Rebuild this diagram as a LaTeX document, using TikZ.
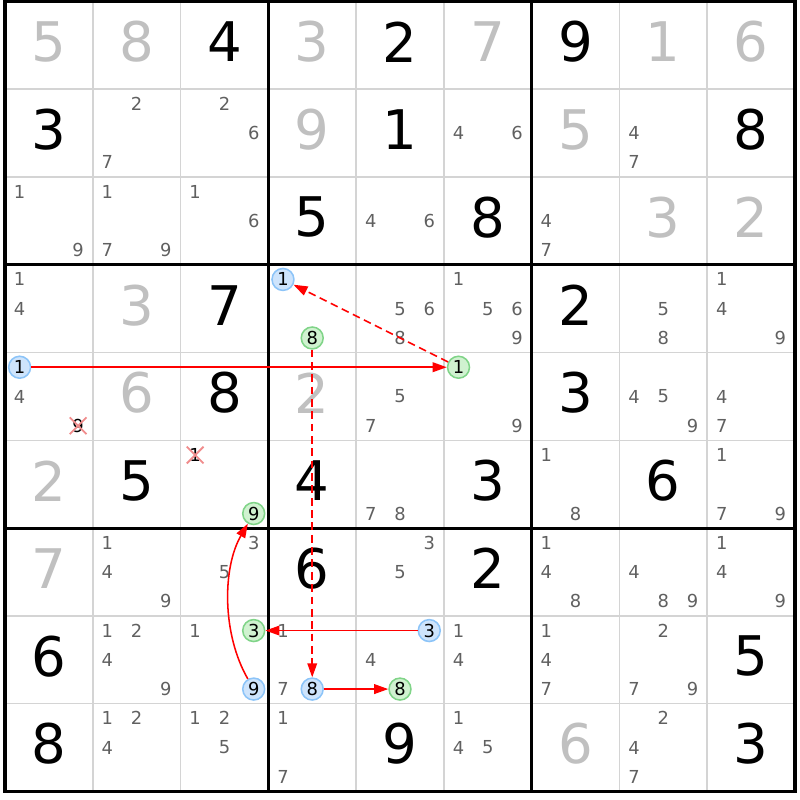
\documentclass[tikz,border=0pt]{standalone}
\usepackage{fontspec}
\setmainfont{DejaVu Sans}
\usetikzlibrary{arrows.meta,shapes.misc}
\definecolor{solvedgray}{RGB}{192,192,192}
\definecolor{candgray}{RGB}{96,96,96}
\definecolor{gridgray}{RGB}{212,212,212}
\definecolor{bluefill}{RGB}{206,228,252}
\definecolor{bluedraw}{RGB}{140,196,248}
\definecolor{greenfill}{RGB}{208,242,208}
\definecolor{greendraw}{RGB}{128,212,136}
\definecolor{crosspink}{RGB}{240,140,140}
\definecolor{linkred}{RGB}{255,0,0}

\begin{document}
\begin{tikzpicture}[>={Triangle[length=1.6mm,width=1.1mm]}]
        \tikzstyle{given}=[font=\fontsize{17.7}{18}\selectfont,inner sep=0pt]
        \tikzstyle{solved}=[given,text=solvedgray]
        \tikzstyle{cand}=[font=\fontsize{5.8}{6}\selectfont,text=candgray,inner sep=0pt]
        \tikzstyle{bluecand}=[cand,text=black,circle,draw=bluedraw,fill=bluefill,line width=0.5pt,minimum size=2.5mm]
        \tikzstyle{greencand}=[bluecand,draw=greendraw,fill=greenfill]
        \tikzstyle{elimcand}=[cand,text=black,cross out,draw=crosspink,line width=0.6pt,minimum size=1.7mm]
        \tikzstyle{stronglink}=[->,draw=linkred,line width=0.5pt]
        \tikzstyle{weaklink}=[stronglink,dash pattern=on 2.5pt off 1.5pt]
        \useasboundingbox (-0.057,-0.097) rectangle (9.057,9.017);
        % grid
        \foreach \i in {1,2,4,5,7,8} {
            \draw[gridgray,line width=0.5pt] (\i,0) -- (\i,9);
            \draw[gridgray,line width=0.5pt] (0,\i) -- (9,\i);
        }
        \foreach \i in {3,6} {
            \draw[line width=1pt] (\i,0) -- (\i,9);
            \draw[line width=1pt] (0,\i) -- (9,\i);
        }
        \draw[line width=1pt] (0,0) rectangle (9,9);
        % givens and solved cells
        \foreach \c/\r/\d in {3/1/4,5/1/2,7/1/9,1/2/3,5/2/1,9/2/8,4/3/5,6/3/8,3/4/7,7/4/2,
            3/5/8,7/5/3,2/6/5,4/6/4,6/6/3,8/6/6,4/7/6,6/7/2,1/8/6,9/8/5,1/9/8,5/9/9,9/9/3}
            \node[given] (v\r\c) at (\c-0.5,9.54-\r) {\d};
        \foreach \c/\r/\d in {1/1/5,2/1/8,4/1/3,6/1/7,8/1/1,9/1/6,4/2/9,7/2/5,8/3/3,9/3/2,
            2/4/3,2/5/6,4/5/2,1/6/2,1/7/7,7/9/6}
            \node[solved] (v\r\c) at (\c-0.5,9.54-\r) {\d};
        % candidates
        \foreach \c/\r/\d/\s in {2/2/2/cand,2/2/7/cand,3/2/2/cand,3/2/6/cand,6/2/4/cand,6/2/6/cand,8/2/4/cand,8/2/7/cand,
            1/3/1/cand,1/3/9/cand,2/3/1/cand,2/3/7/cand,2/3/9/cand,3/3/1/cand,3/3/6/cand,5/3/4/cand,5/3/6/cand,7/3/4/cand,7/3/7/cand,
            1/4/1/cand,1/4/4/cand,4/4/1/bluecand,4/4/8/greencand,5/4/5/cand,5/4/6/cand,5/4/8/cand,6/4/1/cand,6/4/5/cand,6/4/6/cand,6/4/9/cand,
            8/4/5/cand,8/4/8/cand,9/4/1/cand,9/4/4/cand,9/4/9/cand,
            1/5/1/bluecand,1/5/4/cand,1/5/9/elimcand,5/5/5/cand,5/5/7/cand,6/5/1/greencand,6/5/9/cand,8/5/4/cand,8/5/5/cand,8/5/9/cand,9/5/4/cand,9/5/7/cand,
            3/6/1/elimcand,3/6/9/greencand,5/6/7/cand,5/6/8/cand,7/6/1/cand,7/6/8/cand,9/6/1/cand,9/6/7/cand,9/6/9/cand,
            2/7/1/cand,2/7/4/cand,2/7/9/cand,3/7/3/cand,3/7/5/cand,5/7/3/cand,5/7/5/cand,7/7/1/cand,7/7/4/cand,7/7/8/cand,
            8/7/4/cand,8/7/8/cand,8/7/9/cand,9/7/1/cand,9/7/4/cand,9/7/9/cand,
            2/8/1/cand,2/8/2/cand,2/8/4/cand,2/8/9/cand,3/8/1/cand,3/8/3/greencand,3/8/9/bluecand,4/8/1/cand,4/8/7/cand,4/8/8/bluecand,
            5/8/3/bluecand,5/8/4/cand,5/8/8/greencand,6/8/1/cand,6/8/4/cand,7/8/1/cand,7/8/4/cand,7/8/7/cand,8/8/2/cand,8/8/7/cand,8/8/9/cand,
            2/9/1/cand,2/9/2/cand,2/9/4/cand,3/9/1/cand,3/9/2/cand,3/9/5/cand,4/9/1/cand,4/9/7/cand,6/9/1/cand,6/9/4/cand,6/9/5/cand,
            8/9/2/cand,8/9/4/cand,8/9/7/cand}
            \node[\s] (k\r\c\d) at ({\c-1+(mod(\d-1,3)+0.5)/3},{10-\r-(div(\d-1,3)+0.5)/3}) {\d};
        % chain
        \draw[weaklink] (k561) -- (k441);
        \draw[weaklink] (k448) -- (k848);
        \draw[stronglink] (k848) -- (k858);
        \draw[stronglink] (k853) -- (k833);
        \draw[stronglink] (k839) to[bend left=30,looseness=0.85] (k639);
        \draw[stronglink] (k511) -- (k561);
\end{tikzpicture}
\end{document}
